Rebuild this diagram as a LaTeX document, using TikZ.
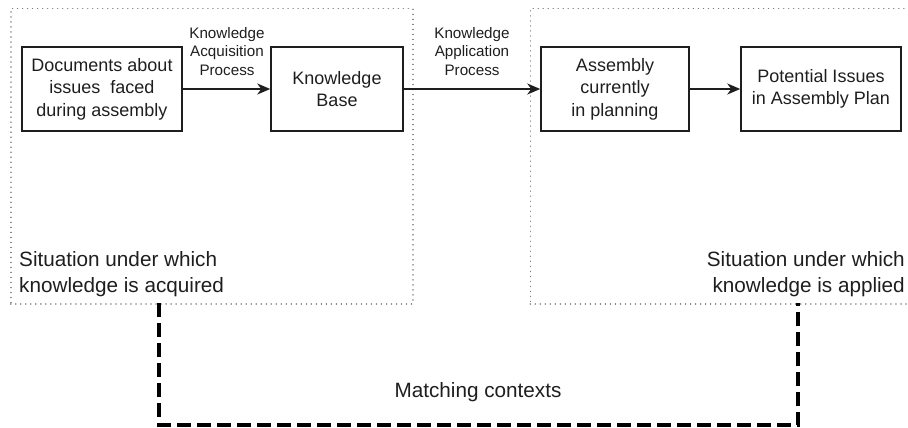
\documentclass[tikz,border=0pt]{standalone}
\usepackage{fontspec}
\setmainfont{Liberation Sans}
\usetikzlibrary{arrows.meta}
\definecolor{ink}{HTML}{1E1E1E}
\definecolor{dotgray}{HTML}{7A7A7A}
\tikzset{
  procbox/.style={draw=ink, line width=1.5pt, text=ink, align=center, inner sep=0pt,
    font=\fontsize{18}{22.5}\selectfont},
  ctxbox/.style={draw=dotgray, line width=1.5pt, dash pattern=on 0.01pt off 5pt, line cap=round,
    inner sep=0pt, anchor=north west},
  flow/.style={draw=ink, line width=1.5pt, -{Stealth[length=13pt,width=11pt,inset=4pt]}},
  proclabel/.style={text=ink, align=center, inner sep=0pt, font=\fontsize{15.2}{18.5}\selectfont},
  sitlabel/.style={text=ink, inner sep=0pt, font=\fontsize{20.7}{26}\selectfont},
  matchline/.style={draw=black, line width=3.2pt, dash pattern=on 14pt off 6pt},
}
\begin{document}
\begin{tikzpicture}[x=1pt,y=-1pt]
\useasboundingbox (0,0) rectangle (908,428);
% context boxes
\node[ctxbox, minimum width=402pt, minimum height=295pt] (acq) at (10,8) {};
\node[ctxbox, minimum width=385pt, minimum height=295pt] (app) at (529.5,8) {};
% process boxes
\node[procbox, minimum width=160pt, minimum height=84pt] (docs) at (102,89) {Documents about\\issues~~faced\\during assembly};
\node[procbox, minimum width=132pt, minimum height=84pt] (kb) at (337,89) {Knowledge\\Base};
\node[procbox, minimum width=148pt, minimum height=84pt] (asm) at (615,89) {Assembly\\currently\\in planning};
\node[procbox, minimum width=160pt, minimum height=84pt] (pot) at (821,89) {Potential Issues\\in Assembly Plan};
% arrows
\draw[flow] (docs) -- (kb);
\draw[flow] (kb) -- (asm);
\draw[flow] (asm) -- (pot);
% arrow labels
\node[proclabel] (acqlab) at (227,51.5) {Knowledge\\Acquisition\\Process};
\node[proclabel] (applab) at (472,51.5) {Knowledge\\Application\\Process};
% situation labels
\node[sitlabel, align=left, anchor=west] (sitacq) at (19,274) {Situation under which\\knowledge is acquired};
\node[sitlabel, align=right, anchor=east] (sitapp) at (905,274) {Situation under which\\knowledge is applied};
% matching contexts
\coordinate (mtl) at (159,303);
\coordinate (mbl) at (159,425);
\coordinate (mbr) at (798,425);
\coordinate (mtr) at (798,303);
\draw[matchline] (mtl) -- (mbl) -- (mbr) -- (mtr);
\node[sitlabel, anchor=base] (match) at (478,397) {Matching contexts};
\end{tikzpicture}
\end{document}
